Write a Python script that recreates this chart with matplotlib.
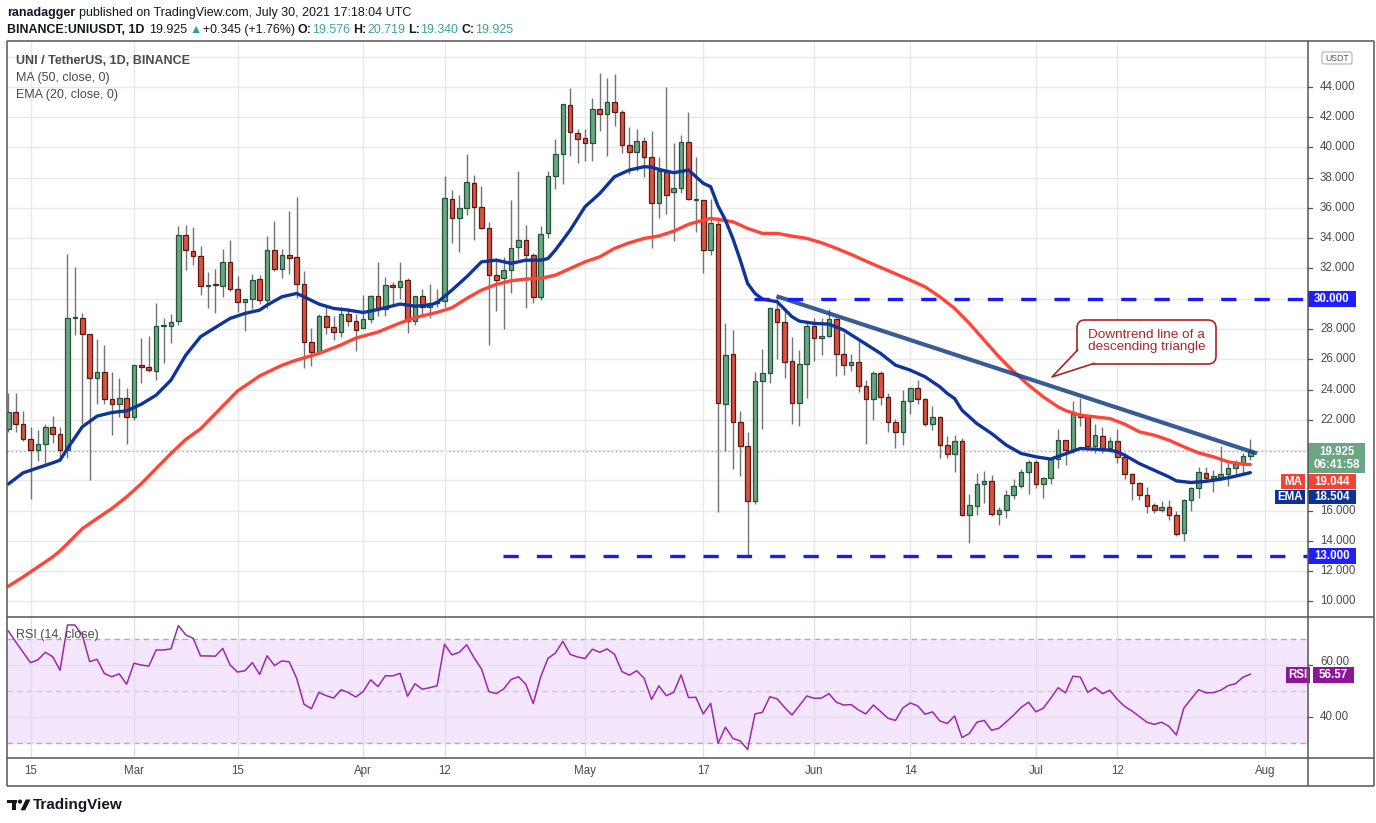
import numpy as np
import matplotlib
matplotlib.use('Agg')
import matplotlib.pyplot as plt
from matplotlib.patches import Rectangle, FancyBboxPatch, Polygon, Circle

plt.rcParams['font.family'] = ['Liberation Sans', 'DejaVu Sans']
plt.rcParams['lines.scale_dashes'] = False

# UNI/USDT daily candles, 12 Feb 2021 .. 30 Jul 2021 (index 0 = 12 Feb)
opens = [21.42, 22.54, 21.69, 20.76, 20.03, 20.41, 21.49, 21.09, 20.03, 28.70,
         28.76, 27.64, 24.79, 25.17, 23.40, 23.07, 23.47, 22.15, 25.65, 25.46,
         25.25, 28.17, 28.23, 28.50, 34.19, 33.13, 32.80, 30.81, 30.93, 30.86,
         32.40, 30.62, 29.76, 29.96, 31.28, 29.89, 33.20, 31.98, 32.86, 32.73,
         30.95, 27.15, 26.45, 28.85, 28.10, 27.82, 28.96, 28.50, 28.04, 28.63,
         30.15, 29.29, 30.88, 30.75, 31.23, 28.50, 30.15, 29.45, 29.69, 29.82,
         36.57, 35.37, 35.97, 37.63, 36.04, 34.65, 31.54, 31.35, 31.87, 33.39,
         33.86, 32.86, 30.09, 34.32, 38.09, 39.55, 42.79, 40.93, 40.60, 40.27,
         42.52, 42.19, 43.03, 42.32, 40.14, 39.68, 40.41, 39.35, 36.30, 38.40,
         37.03, 37.30, 40.34, 36.50, 36.50, 33.20, 34.92, 23.07, 26.32, 21.86,
         20.28, 16.66, 24.57, 25.06, 29.29, 28.48, 25.86, 23.14, 25.66, 28.17,
         27.38, 27.57, 28.63, 26.38, 25.59, 25.79, 24.20, 23.34, 25.06, 23.51,
         21.82, 21.22, 23.21, 24.07, 23.34, 21.75, 22.15, 20.36, 19.72, 20.60,
         15.69, 16.30, 17.72, 17.98, 15.80, 16.06, 17.05, 17.65, 18.55, 19.21,
         17.72, 18.16, 19.41, 20.69, 20.03, 22.37, 22.24, 20.27, 20.91, 20.16,
         20.60, 19.55, 18.44, 17.83, 17.01, 16.35, 16.06, 16.24, 15.69, 14.54,
         16.68, 17.52, 18.51, 18.18, 18.22, 18.44, 18.84, 19.06, 19.576]
highs = [23.80, 23.74, 22.57, 21.49, 21.31, 21.75, 22.24, 21.49, 32.95, 32.07,
         29.09, 27.70, 27.31, 26.93, 25.13, 24.79, 24.07, 25.65, 27.42, 27.53,
         29.71, 28.72, 28.98, 34.81, 34.87, 34.72, 33.48, 31.76, 31.96, 33.29,
         33.88, 31.50, 29.96, 31.63, 31.56, 34.14, 35.14, 33.29, 35.80, 36.72,
         31.83, 28.04, 28.98, 29.47, 28.87, 29.43, 29.25, 28.98, 30.22, 30.22,
         32.42, 31.41, 31.12, 32.42, 31.34, 30.15, 30.64, 30.97, 30.64, 38.11,
         37.19, 36.85, 39.57, 38.18, 37.45, 35.05, 32.67, 32.77, 36.52, 38.44,
         34.87, 33.00, 34.80, 38.44, 40.54, 42.85, 43.91, 41.22, 41.20, 43.29,
         44.95, 44.59, 44.86, 42.48, 41.37, 41.22, 40.67, 41.09, 39.39, 44.02,
         40.31, 40.83, 42.37, 39.37, 36.50, 36.57, 35.42, 28.41, 27.93, 22.57,
         21.20, 25.13, 26.65, 29.36, 30.13, 29.36, 27.49, 26.61, 28.41, 28.70,
         28.76, 29.30, 28.70, 27.75, 26.38, 27.27, 24.62, 25.23, 25.23, 23.80,
         22.04, 23.95, 24.13, 24.66, 23.47, 22.90, 22.24, 20.91, 20.98, 20.82,
         17.12, 18.49, 18.60, 18.33, 16.24, 17.34, 18.11, 18.77, 19.32, 19.32,
         18.22, 19.41, 21.42, 20.69, 23.25, 23.45, 22.30, 21.69, 21.53, 20.87,
         21.42, 19.77, 18.49, 17.89, 17.56, 16.50, 16.61, 16.72, 15.95, 16.79,
         17.56, 18.88, 18.88, 18.66, 20.25, 19.37, 19.37, 19.81, 20.719]
lows = [21.16, 21.16, 20.60, 16.77, 19.26, 19.11, 20.47, 19.37, 19.44, 27.62,
        21.75, 18.05, 23.01, 23.01, 20.96, 22.19, 20.43, 22.01, 24.46, 25.17,
        24.62, 25.77, 27.09, 28.28, 31.92, 32.25, 30.24, 29.40, 29.07, 30.13,
        30.53, 29.14, 27.88, 29.34, 29.62, 29.36, 31.83, 31.39, 31.63, 30.02,
        25.43, 25.55, 26.34, 27.66, 27.27, 27.44, 28.21, 26.56, 28.04, 28.37,
        28.85, 28.85, 29.65, 29.96, 27.71, 28.28, 28.90, 28.76, 29.47, 29.47,
        33.66, 33.11, 35.53, 33.88, 34.58, 26.93, 29.20, 27.97, 30.39, 32.60,
        29.42, 29.73, 29.95, 33.99, 37.23, 37.56, 39.43, 38.95, 39.13, 39.13,
        41.11, 39.46, 41.44, 39.65, 38.22, 38.46, 38.02, 33.37, 35.36, 35.60,
        33.84, 37.01, 36.50, 34.43, 31.72, 32.91, 15.91, 19.92, 18.75, 18.31,
        12.98, 16.46, 21.42, 24.40, 26.00, 24.77, 21.75, 21.62, 23.41, 25.88,
        26.25, 27.44, 24.88, 24.95, 25.22, 23.85, 20.43, 21.97, 22.98, 21.20,
        20.14, 20.36, 22.41, 23.03, 21.57, 21.31, 19.50, 19.50, 18.55, 15.64,
        13.88, 15.69, 16.50, 15.64, 15.07, 15.51, 16.79, 17.52, 17.12, 17.52,
        16.83, 17.74, 18.84, 19.03, 19.81, 21.57, 19.99, 19.77, 19.77, 19.87,
        19.15, 18.11, 16.68, 16.68, 15.84, 15.86, 15.88, 15.35, 14.32, 13.99,
        15.97, 16.85, 17.89, 17.23, 18.00, 17.61, 18.44, 18.44, 19.34]
closes = [22.54, 21.69, 20.76, 20.03, 20.43, 21.49, 21.09, 20.03, 28.70, 28.74,
          27.64, 24.73, 25.17, 23.40, 23.07, 23.47, 22.15, 25.65, 25.46, 25.30,
          28.23, 28.23, 28.43, 34.19, 33.20, 32.80, 30.81, 30.92, 30.88, 32.40,
          30.62, 29.76, 29.96, 31.21, 29.89, 33.20, 31.98, 32.86, 32.71, 30.95,
          27.15, 26.45, 28.85, 28.10, 27.82, 28.96, 28.50, 27.95, 28.63, 30.15,
          29.29, 30.88, 30.75, 31.17, 28.50, 30.15, 29.45, 29.69, 29.82, 36.63,
          35.37, 35.97, 37.69, 36.04, 34.65, 31.54, 31.27, 31.87, 33.33, 33.86,
          32.86, 30.09, 34.25, 38.09, 39.55, 42.85, 41.02, 40.54, 40.27, 42.52,
          42.19, 43.03, 42.32, 40.14, 39.68, 40.41, 39.35, 36.30, 38.44, 36.83,
          37.30, 40.34, 36.57, 36.52, 33.20, 34.98, 23.12, 26.25, 21.86, 20.28,
          16.66, 24.57, 25.06, 29.36, 28.48, 25.79, 23.14, 25.66, 28.17, 27.38,
          27.57, 28.63, 26.38, 25.59, 25.79, 24.20, 23.34, 25.06, 23.51, 21.82,
          21.22, 23.21, 24.07, 23.34, 21.75, 22.15, 20.36, 19.72, 20.60, 15.69,
          16.39, 17.72, 17.98, 15.80, 16.06, 17.05, 17.65, 18.55, 19.21, 17.72,
          18.16, 19.41, 20.69, 20.03, 22.37, 22.19, 20.27, 20.98, 20.16, 20.60,
          19.55, 18.44, 17.83, 17.01, 16.28, 16.06, 16.24, 15.69, 14.47, 16.68,
          17.52, 18.55, 18.18, 18.27, 18.44, 18.84, 19.06, 19.576, 19.925]

# MA(50) and EMA(20) at sample days
ma_days = [0, 2, 4, 6, 7, 8, 10, 12, 14, 16, 18, 20, 22, 24, 26, 28, 31, 34, 37, 39,
           42, 45, 47, 50, 53, 55, 58, 60, 62, 64, 66, 68, 70, 72, 74, 76, 78, 80, 82,
           84, 86, 88, 90, 92, 94, 95, 96, 98, 100, 102, 104, 106, 108, 110, 112, 114,
           116, 122, 124, 126, 128, 130, 132, 134, 136, 138, 140, 142, 143, 145, 147,
           149, 151, 153, 155, 157, 159, 161, 163, 165, 167, 168]
ma_vals = [10.99, 11.61, 12.27, 12.93, 13.33, 13.81, 14.80, 15.47, 16.13, 16.90, 17.78,
           18.78, 19.77, 20.70, 21.40, 22.40, 23.90, 24.90, 25.60, 25.95, 26.38, 26.95,
           27.40, 27.80, 28.40, 28.75, 29.10, 29.40, 30.02, 30.57, 30.95, 31.19, 31.30,
           31.34, 31.56, 32.00, 32.44, 32.77, 33.33, 33.70, 33.99, 34.15, 34.47, 34.92,
           35.20, 35.31, 35.25, 35.09, 34.65, 34.32, 34.32, 34.14, 33.99, 33.70, 33.33,
           32.93, 32.49, 31.23, 30.79, 30.13, 29.36, 28.37, 27.26, 26.16, 25.17, 24.29,
           23.51, 22.85, 22.61, 22.30, 22.19, 22.08, 21.71, 21.20, 20.98, 20.65, 20.21,
           19.81, 19.55, 19.22, 19.06, 19.044]
ema_days = [0, 2, 4, 6, 7, 8, 10, 12, 14, 16, 18, 20, 22, 24, 26, 28, 30, 32, 34, 35,
            37, 39, 40, 42, 44, 46, 48, 50, 52, 53, 55, 57, 58, 60, 62, 64, 66, 68, 70,
            72, 73, 74, 76, 78, 80, 82, 84, 86, 87, 88, 90, 92, 93, 94, 95, 96, 97, 98,
            99, 100, 101, 102, 104, 106, 107, 109, 111, 113, 115, 116, 118, 120, 122,
            124, 126, 127, 128, 129, 131, 133, 135, 137, 139, 141, 143, 145, 147, 149,
            150, 151, 153, 155, 157, 158, 160, 162, 164, 166, 168]
ema_vals = [17.75, 18.49, 18.82, 19.15, 19.33, 20.10, 21.53, 22.24, 22.48, 22.59, 23.03,
            23.63, 24.62, 26.27, 27.49, 28.10, 28.70, 29.03, 29.25, 29.58, 30.13, 30.35,
            30.13, 29.65, 29.36, 29.25, 29.09, 29.29, 29.53, 29.65, 29.51, 29.58, 29.75,
            30.57, 31.45, 32.44, 32.55, 32.34, 32.55, 32.55, 32.66, 33.22, 34.54, 36.08,
            36.96, 38.07, 38.51, 38.73, 38.70, 38.55, 38.33, 38.51, 38.07, 37.63, 37.41,
            36.13, 35.20, 33.99, 32.56, 31.01, 30.35, 29.98, 29.80, 28.81, 28.52, 28.37,
            28.32, 27.93, 27.31, 27.00, 26.38, 25.61, 25.28, 24.84, 24.18, 23.74, 23.40,
            22.63, 21.75, 21.09, 20.32, 19.77, 19.55, 19.40, 19.75, 20.10, 20.05, 19.99,
            19.88, 19.66, 19.10, 18.66, 18.22, 17.96, 17.85, 17.93, 18.07, 18.27, 18.504]

# RSI(14), one value per candle
rsi_vals = [73.2, 69.0, 65.0, 61.0, 62.1, 65.0, 63.3, 58.1, 75.5, 75.5,
            71.7, 61.4, 62.3, 56.8, 55.6, 56.7, 52.7, 60.8, 60.1, 59.7,
            65.9, 65.9, 66.3, 75.3, 71.7, 70.4, 63.6, 63.6, 63.5, 66.5,
            60.1, 57.4, 57.9, 61.0, 56.5, 63.7, 59.9, 61.7, 61.3, 55.0,
            45.0, 43.3, 49.6, 48.3, 47.4, 50.6, 49.5, 47.8, 49.9, 54.4,
            51.8, 56.0, 55.9, 56.9, 48.1, 52.9, 50.8, 51.4, 52.1, 68.1,
            64.0, 65.0, 67.9, 62.9, 58.6, 49.9, 49.1, 50.9, 54.5, 55.6,
            52.7, 45.3, 55.5, 62.7, 64.7, 69.2, 64.2, 63.2, 62.6, 66.2,
            65.0, 66.3, 64.2, 57.6, 56.2, 57.9, 55.0, 46.9, 52.1, 48.3,
            49.6, 56.3, 47.6, 47.7, 41.3, 45.4, 30.0, 36.2, 31.9, 30.9,
            27.6, 41.3, 41.9, 47.9, 47.1, 43.8, 40.9, 44.5, 48.2, 47.3,
            47.4, 49.1, 45.8, 44.7, 44.9, 42.8, 41.3, 44.7, 42.2, 39.6,
            38.8, 43.6, 45.5, 44.4, 41.2, 42.1, 38.6, 37.6, 40.5, 32.2,
            33.8, 38.1, 38.8, 35.0, 35.8, 38.3, 40.9, 43.8, 45.8, 42.1,
            43.5, 47.3, 51.4, 49.4, 55.8, 55.5, 49.6, 51.4, 49.1, 50.4,
            46.9, 44.2, 42.4, 40.3, 38.1, 37.3, 38.1, 36.5, 33.2, 43.5,
            47.1, 50.6, 49.4, 49.5, 50.4, 52.2, 52.9, 55.4, 56.57]

# drawings
trend_days = [103.9, 168.9]
trend_prices = [30.17, 19.77]
resistance = 30.0
resistance_from = 100.9
support = 13.0
support_from = 66.9

date_ticks = [3, 17, 31, 48, 59, 78, 94, 109, 122, 139, 150, 170]
date_labels = ['15', 'Mar', '15', 'Apr', '12', 'May', '17', 'Jun', '14', 'Jul', '12', 'Aug']
price_ticks = list(range(10, 46, 2))
hidden_ticks = [18, 20, 30]   # covered by the value boxes on the scale
last_price = 19.925

W, H = 1376, 823
fig = plt.figure(figsize=(W / 100, H / 100), dpi=100)
fig.patch.set_facecolor('white')

def box(x0, y0, x1, y1):
    return [x0 / W, 1 - y1 / H, (x1 - x0) / W, (y1 - y0) / H]

X0, X1 = 6.7, 1308
ax = fig.add_axes(box(X0, 40.7, X1, 617.3))
ax2 = fig.add_axes(box(X0, 617.3, X1, 758.3))
axr = fig.add_axes(box(X1, 40.7, 1374, 617.3))
axr2 = fig.add_axes(box(X1, 617.3, 1374, 758.3))
ov = fig.add_axes([0, 0, 1, 1])
ov.set_xlim(0, W)
ov.set_ylim(H, 0)
ov.axis('off')
ov.patch.set_alpha(0)

xlim = (-0.22, 175.8)
ylim = (8.94, 47.06)
rlim = (24.23, 78.46)
for a in (ax, ax2):
    a.set_xlim(*xlim)
    a.set_xticks(date_ticks)
    a.tick_params(length=0, labelleft=False, labelbottom=False)
    for s in a.spines.values():
        s.set_visible(False)
ax.set_ylim(*ylim)
ax.set_yticks(price_ticks + [46])
ax.grid(True, color='#e8e8e8', lw=1.0)
ax2.set_ylim(*rlim)
ax2.set_yticks([40, 60])
ax2.grid(True, color='#e3dcea', lw=1.0)
for a in (axr, axr2):
    a.set_xlim(0, 66)
    a.axis('off')
axr.set_ylim(*ylim)
axr2.set_ylim(*rlim)

# candles
days = np.arange(len(closes))
o = np.array(opens)
c = np.array(closes)
up = c >= o
lo = np.minimum(o, c)
hgt = np.maximum(np.abs(c - o), 0.08)
ax.vlines(days, lows, highs, color='#737375', lw=1.0, zorder=2)
ax.bar(days[up], hgt[up], 0.62, bottom=lo[up], color='#6ba583',
       edgecolor='#225437', lw=0.9, zorder=3)
ax.bar(days[~up], hgt[~up], 0.62, bottom=lo[~up], color='#d75442',
       edgecolor='#5b1a13', lw=0.9, zorder=3)

ax.plot(ma_days, ma_vals, color='#ff4538', lw=2.4, zorder=4, solid_capstyle='round')
ax.plot(ema_days, ema_vals, color='#0f349c', lw=2.4, zorder=4, solid_capstyle='round')
ax.axhline(last_price, color='#7f9a8c', lw=1.0, ls=(0, (1, 2)), zorder=1)
ax.plot(trend_days, trend_prices, color='#1b4685', lw=3.0, alpha=0.88, zorder=5,
        solid_capstyle='butt')
ax.plot([resistance_from, xlim[1]], [resistance, resistance], color='#1a1aff', lw=2.4,
        dashes=(11, 13), zorder=5)
ax.plot([support_from, xlim[1]], [support, support], color='#1a1aff', lw=2.4,
        dashes=(11, 13), zorder=5)

# RSI pane
ax2.axhspan(30, 70, color='#f4e7fd', zorder=0)
for lvl in (70, 50, 30):
    ax2.axhline(lvl, color='#b3aab9' if lvl != 50 else '#cfc6d6', lw=1.0,
                dashes=(4, 3), zorder=1)
ax2.plot(days, rsi_vals, color='#9c27b0', lw=1.1, zorder=3)
for t, lab in zip(date_ticks, date_labels):
    ax2.text(t, -0.09, lab, transform=ax2.get_xaxis_transform(), ha='center',
             va='center', fontsize=8.3, color='#4a4a4a')

# right price scale
for p in price_ticks:
    axr.plot([0, 4], [p, p], color='#555555', lw=0.9, clip_on=False)
    if p not in hidden_ticks:
        axr.text(12, p, f'{p:.3f}', ha='left', va='center', fontsize=8.3, color='#4a4a4a')
for p in (40, 60):
    axr2.plot([0, 4], [p, p], color='#555555', lw=0.9, clip_on=False)
    axr2.text(12, p + (1.2 if p == 60 else 0), f'{p:.2f}', ha='left', va='center',
              fontsize=8.3, color='#4a4a4a')

pu = 1 / 15.118  # price units per pixel

def plabel(a, y, h, x0, x1, fc, txt, fs=8.3):
    a.add_patch(Rectangle((x0, y - h / 2), x1 - x0, h, fc=fc, ec='none',
                          clip_on=False, zorder=6))
    a.text((x0 + x1) / 2, y, txt, ha='center', va='center', fontsize=fs,
           color='white', fontweight='bold', zorder=7, clip_on=False)

plabel(axr, resistance, 16 * pu, 0, 47.5, '#1e1eff', '30.000')
plabel(axr, support, 16 * pu, 0, 47.5, '#1e1eff', '13.000')
axr.add_patch(Rectangle((0, 10 + (601 - 473) * pu), 57, 30 * pu, fc='#6ba583',
                        ec='none', clip_on=False, zorder=6))
axr.text(28.5, 10 + (601 - 452.3) * pu, '19.925', ha='center', va='center',
         fontsize=8.3, color='white', fontweight='bold', zorder=7)
axr.text(28.5, 10 + (601 - 464.6) * pu, '06:41:58', ha='center', va='center',
         fontsize=8.3, color='white', fontweight='bold', zorder=7)
y_ma = 10 + (601 - 481.3) * pu
y_ema = 10 + (601 - 496.3) * pu
plabel(axr, y_ma, 15.5 * pu, 0, 47.5, '#f44336', '19.044')
plabel(axr, y_ma, 15.5 * pu, -26.7, -2.7, '#f44336', 'MA')
plabel(axr, y_ema, 14 * pu, 0, 47.5, '#0d3293', '18.504')
plabel(axr, y_ema, 14 * pu, -32.7, -2.7, '#0d3293', 'EMA')
rsi_y = 56.38
plabel(axr2, rsi_y, 16 / 2.6, 4.8, 46, '#8e1599', '56.57')
plabel(axr2, rsi_y, 16 / 2.6, -22, 1.5, '#8e1599', 'RSI')

# frame
fc = '#555555'
for (xa, ya, xb, yb) in [(X0, 40.7, 1374, 40.7), (X0, 786, 1374, 786),
                         (X0, 40.7, X0, 786), (1374, 40.7, 1374, 786),
                         (X1, 40.7, X1, 786), (X0, 617.3, 1374, 617.3),
                         (X0, 758.3, 1374, 758.3)]:
    ov.plot([xa, xb], [ya, yb], color=fc, lw=1.1, solid_capstyle='butt')

# USDT unit box
ov.add_patch(FancyBboxPatch((1322, 52), 30, 12, boxstyle='round,pad=0,rounding_size=2',
                            fc='white', ec='#b0b0b0', lw=0.8))
ov.text(1337, 58.3, 'USDT', ha='center', va='center', fontsize=6.3, color='#555555')

# header, laid out piece by piece
renderer = fig.canvas.get_renderer()

def header_line(y, parts, x=7.0, fs=9.2):
    for txt, wgt, col, gap in parts:
        t = ov.text(x, y, txt, fontsize=fs, fontweight=wgt, color=col, va='center')
        x += t.get_window_extent(renderer=renderer).width + gap

ink = '#131722'
teal = '#3aa597'
header_line(13, [('ranadagger', 'bold', ink, 3.5),
                 ('published on TradingView.com, July 30, 2021 17:18:04 UTC', 'normal', ink, 0)],
            fs=9.0)
header_line(30, [('BINANCE:UNIUSDT, 1D', 'bold', ink, 5),
                 ('19.925', 'normal', ink, 1.5),
                 ('\u25B2', 'normal', '#26a69a', 1.5),
                 ('+0.345 (+1.76%)', 'normal', ink, 3),
                 ('O:', 'bold', ink, 0.5), ('19.576', 'normal', teal, 3),
                 ('H:', 'bold', ink, 0.5), ('20.719', 'normal', teal, 3),
                 ('L:', 'bold', ink, 0.5), ('19.340', 'normal', teal, 3),
                 ('C:', 'bold', ink, 0.5), ('19.925', 'normal', teal, 0)], fs=8.9)

# legend texts
for y, txt in [(61, 'UNI / TetherUS, 1D, BINANCE'), (78, 'MA (50, close, 0)'),
               (95, 'EMA (20, close, 0)')]:
    ov.text(15.5, y, txt, fontsize=9, color='#4a4a4a', va='center',
            fontweight='bold' if y == 61 else 'normal')
ov.text(15.5, 635, 'RSI (14, close)', fontsize=9, color='#4a4a4a', va='center')

# callout
red = '#ad2424'
ov.add_patch(FancyBboxPatch((1077, 320), 139, 44, boxstyle='round,pad=0,rounding_size=8',
                            fc='white', ec=red, lw=1.2, zorder=5))
ov.add_patch(Polygon([(1077.6, 350), (1052, 377), (1094, 363.4), (1094, 352), (1077.6, 352)],
                     closed=True, fc='white', ec='none', zorder=6))
ov.plot([1077.6, 1052, 1094], [350, 377, 363.4], color=red, lw=1.2, zorder=7)
ov.text(1146.5, 341, 'Downtrend line of a\ndescending triangle', ha='center', va='center',
        color=red, fontsize=9.7, linespacing=0.95, zorder=8)

# TradingView logo
logo = '#131722'
ov.add_patch(Rectangle((7, 799.5), 9.5, 3.6, fc=logo, ec='none'))
ov.add_patch(Rectangle((11.8, 799.5), 4.2, 10.8, fc=logo, ec='none'))
ov.add_patch(Circle((20, 801.6), 2.1, fc=logo, ec='none'))
ov.add_patch(Polygon([(20.5, 810.3), (25.2, 810.3), (30.5, 799.5), (25.8, 799.5)],
                     closed=True, fc=logo, ec='none'))
ov.text(33, 804.8, 'TradingView', fontsize=11, fontweight='bold', color=logo, va='center')

fig.savefig('out.png', dpi=100)
